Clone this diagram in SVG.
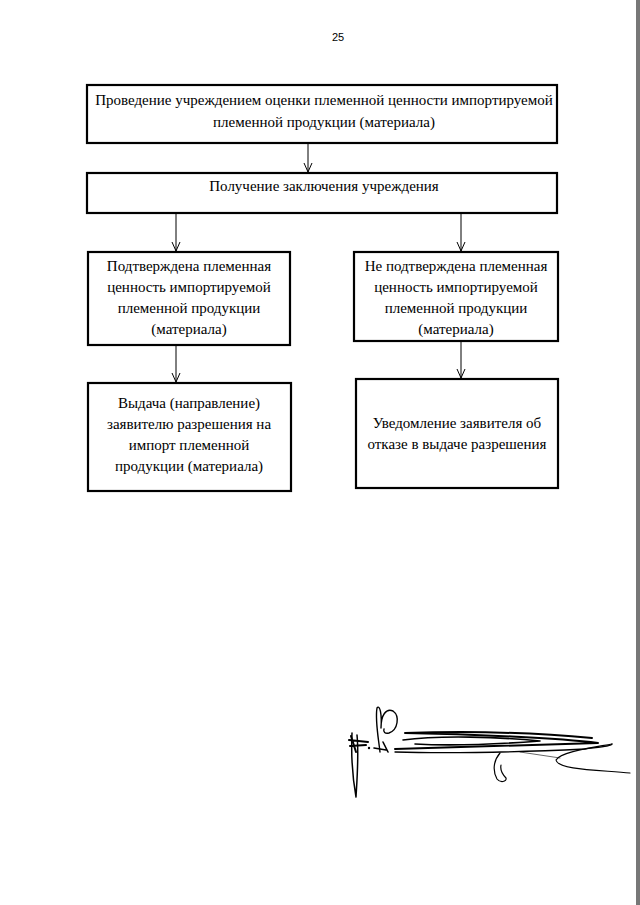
<svg xmlns="http://www.w3.org/2000/svg" width="640" height="905" viewBox="0 0 640 905">
<style>
.box{fill:#fff;stroke:#000;stroke-width:2.2}
.t{font-family:"Liberation Serif","Times New Roman",serif;font-size:15px;fill:#000;text-anchor:middle}
.c{stroke:#000;stroke-width:1;fill:none}
.sig{stroke:#000;fill:none;stroke-linecap:round;stroke-linejoin:round}
</style>
<defs>
<marker id="ah" viewBox="0 0 10 10" refX="10" refY="5" markerWidth="10" markerHeight="10" markerUnits="userSpaceOnUse" orient="auto">
<path d="M1,1 L10,5 L1,9" fill="none" stroke="#000" stroke-width="1"/>
</marker>
</defs>
<rect width="640" height="905" fill="#fff"/>
<rect x="636" y="0" width="4" height="905" fill="#777"/>
<text x="338" y="41" font-family="Liberation Sans, Arial, sans-serif" font-size="11" text-anchor="middle">25</text>

<g id="connectors">
<path class="c" d="M308,143 V172" marker-end="url(#ah)"/>
<path class="c" d="M176,213 V251" marker-end="url(#ah)"/>
<path class="c" d="M461,213 V251" marker-end="url(#ah)"/>
<path class="c" d="M176,345 V382" marker-end="url(#ah)"/>
<path class="c" d="M461,341 V378" marker-end="url(#ah)"/>
</g>

<g id="n1">
<rect class="box" x="87" y="85" width="470" height="58"/>
<text class="t" x="324" y="105">Проведение учреждением оценки племенной ценности импортируемой</text>
<text class="t" x="324" y="127">племенной продукции (материала)</text>
</g>
<g id="n2">
<rect class="box" x="87" y="173" width="470" height="40"/>
<text class="t" x="324" y="191">Получение заключения учреждения</text>
</g>
<g id="n3">
<rect class="box" x="88" y="252" width="202" height="93"/>
<text class="t" x="189" y="271">Подтверждена племенная</text>
<text class="t" x="189" y="292">ценность импортируемой</text>
<text class="t" x="189" y="313">племенной продукции</text>
<text class="t" x="189" y="334">(материала)</text>
</g>
<g id="n4">
<rect class="box" x="354" y="252" width="204" height="89"/>
<text class="t" x="456" y="271">Не подтверждена племенная</text>
<text class="t" x="456" y="292">ценность импортируемой</text>
<text class="t" x="456" y="313">племенной продукции</text>
<text class="t" x="456" y="334">(материала)</text>
</g>
<g id="n5">
<rect class="box" x="88" y="383" width="203" height="108"/>
<text class="t" x="189" y="408">Выдача (направление)</text>
<text class="t" x="189" y="429">заявителю разрешения на</text>
<text class="t" x="189" y="450">импорт племенной</text>
<text class="t" x="189" y="471">продукции (материала)</text>
</g>
<g id="n6">
<rect class="box" x="356" y="379" width="202" height="109"/>
<text class="t" x="457" y="428">Уведомление заявителя об</text>
<text class="t" x="457" y="449">отказе в выдаче разрешения</text>
</g>

<g id="signature">
<path class="sig" stroke-width="1.5" d="M352,733 C351,755 353,780 356,797 C357,780 359,755 357,735"/>
<path class="sig" stroke-width="2" d="M349,740 L368,742 M350,746 L366,745 M351,736 L356,752"/>
<circle cx="369" cy="748" r="1.2"/>
<path class="sig" stroke-width="1.4" d="M380,752 C378,735 375,720 377,708 C380,704 382,715 381,728 C381,715 386,708 393,711 C400,716 398,730 389,733 C385,734 383,732 384,729"/>
<path class="sig" stroke-width="1.6" d="M374,748 L386,750 M383,742 L388,752"/>
<path class="sig" stroke-width="2" d="M395,749 C450,748 520,745 598,743 C560,738 470,734 405,733 C470,731 540,733 592,738"/>
<path class="sig" stroke-width="1.6" d="M403,740 C440,735 500,737 540,741 C500,744 450,746 415,744"/>
<path class="sig" stroke-width="1.3" d="M395,752 C460,754 520,752 585,749 C600,747 612,746 612,744"/>
<path class="sig" stroke-width="1.2" d="M612,744 C590,748 560,752 556,760 C558,770 600,770 630,773"/>
<path class="sig" stroke-width="1.2" d="M500,753 C494,760 492,770 497,779 C500,783 507,782 506,778 C502,774 500,770 501,765"/>
<path class="sig" stroke-width="0.6" stroke="#888" d="M520,752 L560,758"/>
</g>
</svg>
